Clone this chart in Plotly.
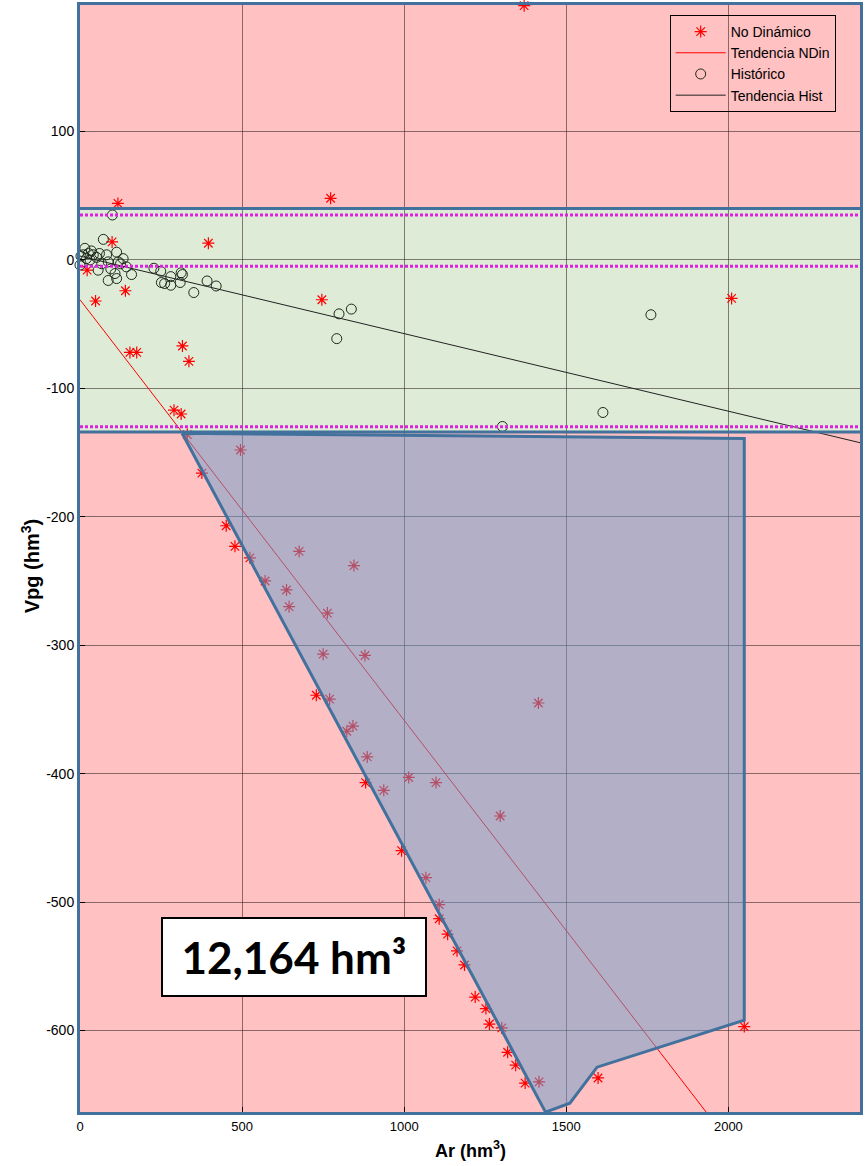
import plotly.graph_objects as go

# --- No Dinámico observations (Ar, Vpg) ---
ndin_ar = [1370, 117, 773, 99, 396, 22, 48, 140, 154, 175, 316, 336, 746, 2010,
           290, 312, 331, 495, 376, 451, 478, 524, 571, 637, 645, 676, 845, 763,
           750, 879, 729, 770, 842, 823, 886, 881, 937, 1014, 1098, 1414, 1296,
           992, 1067, 1108, 1108, 1134, 1163, 1186, 1219, 1252, 1263, 1301, 1319,
           1344, 1373, 1416, 1419, 1598, 2049]
ndin_vpg = [198, 44, 48, 14, 13, -8, -32, -24, -72, -72, -67, -79, -31, -30,
            -117, -120, -136, -148, -166, -207, -223, -232, -250, -257, -270, -227, -238, -275,
            -307, -308, -339, -342, -363, -367, -387, -407, -413, -403, -407, -345, -433,
            -460, -481, -502, -513, -525, -538, -549, -574, -583, -595, -598, -617,
            -627, -641, -640, -665, -637, -597]

# --- Histórico observations (Ar, Vpg) ---
hist_ar = [100, 72, 15, 10, 26, 41, 51, 31, 0, 3, 82, 113, 133, 118, 87, 67, 56,
           87, 113, 108, 143, 159, 228, 249, 251, 261, 280, 280, 316, 312, 309,
           351, 392, 420, 799, 837, 792, 1761, 1613, 1303, 20, 35, 60, 95, 125]
hist_vpg = [35, 16, 9, 4, 5, 4, 2, 0, -4, 3, 4, 6, 1, -1.5, -1.5, -3, -8,
            -16, -14.5, -10.6, -5.4, -11.4, -6.5, -8.8, -17.6, -18.4, -13, -19.7, -11.4, -10, -17.6,
            -25.4, -16.4, -20.3, -42, -38.3, -61.3, -42.7, -118.8, -129.7, 1, 7, 5, -7, -3]

# --- Linear trends: intercept, slope ---
ndin_intercept, ndin_slope = -31.0, -0.3275
hist_intercept, hist_slope = 3.0, -0.0604
trend_x = [0, 2406]

# --- Highlighted region (Ar, Vpg) ---
area_ar = [315, 2049, 2049, 1595, 1511, 1436, 315]
area_vpg = [-135, -139, -592, -628.6, -656.6, -663.6, -135]
area_label = "12,164 hm³"

# --- Reference band and limit lines (Vpg) ---
band_top, band_bottom = 40, -134
limit_lines = [35, -5, -130]

# --- Axes ---
x_range = [0, 2406]
y_range = [-663.5, 198.5]
x_ticks = [0, 500, 1000, 1500, 2000]
x_ticktext = ["0", "500", "1000", "1500", "2000"]
y_ticks = [100, 0, -100, -200, -300, -400, -500, -600]
y_ticktext = ["100", "0", "-100", "-200", "-300", "-400", "-500", "-600"]

PINK = "rgb(255,193,193)"
GREEN = "rgb(222,235,214)"
BLUE = "#41719C"
FONT = "Liberation Sans, Arial, sans-serif"

fig = go.Figure()

fig.add_trace(go.Scatter(
    x=ndin_ar, y=ndin_vpg, mode="markers", name="No Dinámico",
    marker=dict(symbol="asterisk-open", size=10, color="red",
                line=dict(color="red", width=1.2)),
    cliponaxis=False))

fig.add_trace(go.Scatter(
    x=trend_x, y=[ndin_intercept + ndin_slope * v for v in trend_x],
    mode="lines", name="Tendencia NDin", line=dict(color="red", width=1)))

fig.add_trace(go.Scatter(
    x=hist_ar, y=hist_vpg, mode="markers", name="Histórico",
    marker=dict(symbol="circle-open", size=10, color="#1b2a1b",
                line=dict(color="#1b2a1b", width=1)),
    cliponaxis=False))

fig.add_trace(go.Scatter(
    x=trend_x, y=[hist_intercept + hist_slope * v for v in trend_x],
    mode="lines", name="Tendencia Hist", line=dict(color="#222222", width=1)))

# translucent highlighted area over the points
fig.add_trace(go.Scatter(
    x=area_ar, y=area_vpg, mode="lines", fill="toself",
    fillcolor="rgba(103,158,206,0.5)", line=dict(color=BLUE, width=3),
    showlegend=False, hoverinfo="skip"))

shapes = [
    dict(type="rect", xref="paper", x0=0, x1=1, yref="y", y0=band_bottom, y1=band_top,
         fillcolor=GREEN, line=dict(width=0), layer="below"),
]
for yv in (band_top, band_bottom):
    shapes.append(dict(type="line", xref="paper", x0=0, x1=1, yref="y", y0=yv, y1=yv,
                       line=dict(color=BLUE, width=3), layer="above"))
for yv in limit_lines:
    shapes.append(dict(type="line", xref="paper", x0=0, x1=1, yref="y", y0=yv, y1=yv,
                       line=dict(color="#E020E0", width=3, dash="3px,2px"), layer="above"))

fig.update_layout(
    width=865, height=1166,
    margin=dict(l=80, r=2, t=3, b=54),
    paper_bgcolor="white", plot_bgcolor=PINK,
    font=dict(family=FONT, size=13, color="black"),
    shapes=shapes,
    showlegend=True,
    legend=dict(x=0.756, y=0.991, xanchor="left", yanchor="top",
                bgcolor="rgba(0,0,0,0)", bordercolor="black", borderwidth=1,
                font=dict(family=FONT, size=14, color="black"),
                tracegroupgap=0, itemwidth=50),
    annotations=[
        dict(text="Vpg (hm<sup>3</sup>)", xref="paper", yref="paper", x=-0.064, y=0.493,
             textangle=-90, showarrow=False, xanchor="center", yanchor="middle",
             font=dict(family=FONT, size=20, color="black", weight="bold")),
        dict(text="Ar (hm<sup>3</sup>)", xref="paper", yref="paper", x=0.5, y=-0.0465,
             showarrow=False, xanchor="center", yanchor="bottom",
             font=dict(family=FONT, size=18, color="black", weight="bold")),
        dict(text=area_label, xref="paper", yref="paper", x=0.2746, y=0.1398,
             showarrow=False, xanchor="center", yanchor="middle",
             width=262, height=76, bgcolor="white", bordercolor="black",
             borderwidth=2, borderpad=0,
             font=dict(family="Lato, Open Sans, sans-serif", size=44, color="black",
                       weight="bold")),
    ],
)

fig.update_xaxes(range=x_range, tickvals=x_ticks, ticktext=x_ticktext,
                 showgrid=True, gridcolor="rgba(40,30,30,0.55)", gridwidth=1,
                 zeroline=False, showline=True, linecolor=BLUE, linewidth=3,
                 mirror=True, ticks="inside", ticklen=5, tickcolor="black",
                 tickfont=dict(size=13))
fig.update_yaxes(range=y_range, tickvals=y_ticks, ticktext=y_ticktext,
                 showgrid=True, gridcolor="rgba(40,30,30,0.55)", gridwidth=1,
                 zeroline=False, showline=True, linecolor=BLUE, linewidth=3,
                 mirror=True, ticks="inside", ticklen=5, tickcolor="black",
                 tickfont=dict(size=14))

fig.write_html("out.html")
